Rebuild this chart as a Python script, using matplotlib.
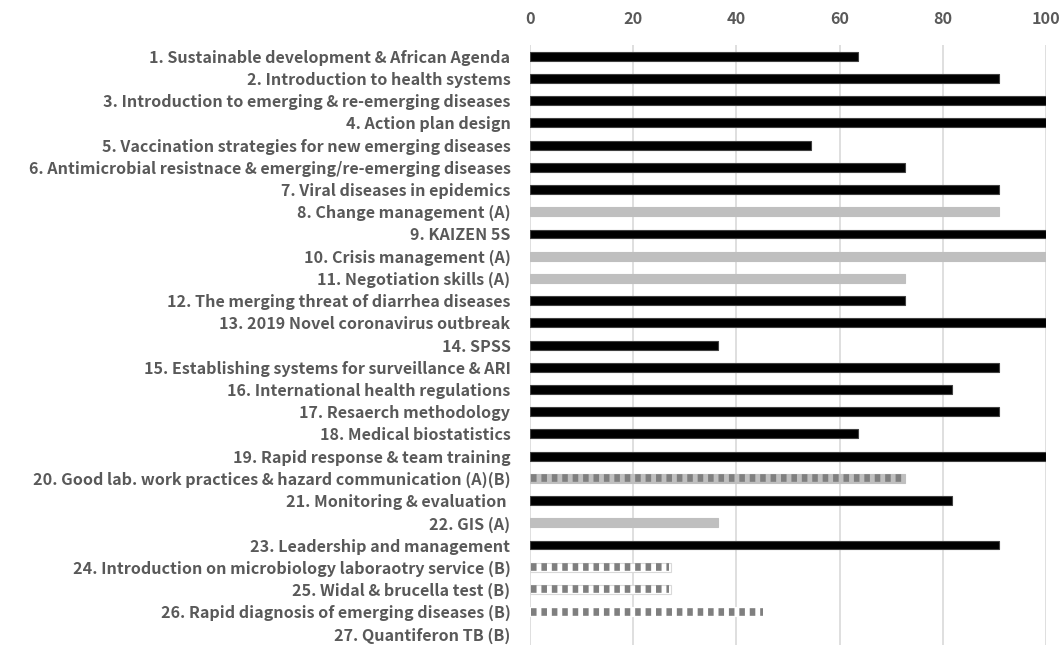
import matplotlib
matplotlib.use("Agg")
import matplotlib.pyplot as plt

plt.rcParams['font.family'] = ['Noto Sans CJK JP', 'DejaVu Sans']
plt.rcParams['lines.scale_dashes'] = False

# course names, scores (%) and group: '' normal, 'A', 'B', 'AB'
courses = [
    "1. Sustainable development & African Agenda",
    "2. Introduction to health systems",
    "3. Introduction to emerging & re-emerging diseases",
    "4. Action plan design",
    "5. Vaccination strategies for new emerging diseases",
    "6. Antimicrobial resistnace & emerging/re-emerging diseases",
    "7. Viral diseases in epidemics",
    "8. Change management (A)",
    "9. KAIZEN 5S",
    "10. Crisis management (A)",
    "11. Negotiation skills (A)",
    "12. The merging threat of diarrhea diseases",
    "13. 2019 Novel coronavirus outbreak",
    "14. SPSS",
    "15. Establishing systems for surveillance & ARI",
    "16. International health regulations",
    "17. Resaerch methodology",
    "18. Medical biostatistics",
    "19. Rapid response & team training",
    "20. Good lab. work practices & hazard communication (A)(B)",
    "21. Monitoring & evaluation ",
    "22. GIS (A)",
    "23. Leadership and management",
    "24. Introduction on microbiology laboraotry service (B)",
    "25. Widal & brucella test (B)",
    "26. Rapid diagnosis of emerging diseases (B)",
    "27. Quantiferon TB (B)",
]
scores = [63.6, 90.9, 100, 100, 54.5, 72.7, 90.9, 90.9, 100, 100, 72.7, 72.7, 100,
          36.4, 90.9, 81.8, 90.9, 63.6, 100, 72.7, 81.8, 36.4, 90.9, 27.3, 27.3, 45.5, 0]
groups = ['', '', '', '', '', '', '', 'A', '', 'A', 'A', '', '', '', '', '', '', '',
          '', 'AB', '', 'A', '', 'B', 'B', 'Bn', 'B']

fig = plt.figure(figsize=(10.62, 6.45), dpi=100)
ax = fig.add_axes([0.499, 0.0, 0.486, 0.930])

y = list(range(len(courses)))
face = {'': 'black', 'A': '#bfbfbf', 'AB': '#bfbfbf', 'B': 'white', 'Bn': 'white'}
edge = {'': '#404040', 'A': '#bfbfbf', 'AB': '#bfbfbf', 'B': '#d9d9d9', 'Bn': 'white'}
for yi, v, g in zip(y, scores, groups):
    if v <= 0:
        continue
    ax.barh(yi, v, height=0.4, color=face[g], edgecolor=edge[g], linewidth=0.8, zorder=3)
    if 'B' in g:
        ax.hlines(yi, 0.3, v - 0.3, colors='#7f7f7f', linewidth=5.5,
                  linestyles=(0, (4.0, 3.5)), zorder=4)

ax.set_xlim(0, 100)
ax.set_ylim(len(courses) - 0.5, -0.5)
ax.set_yticks(y)
ax.set_yticklabels(courses)
ax.set_xticks(range(0, 101, 20))
ax.xaxis.tick_top()
ax.tick_params(length=0, colors='#595959', labelsize=11.6)
ax.tick_params(axis='x', pad=13)
ax.tick_params(axis='y', pad=14)
for lab in ax.get_xticklabels() + ax.get_yticklabels():
    lab.set_fontweight('bold')
ax.grid(axis='x', color='#d9d9d9', linewidth=1.2, zorder=0)
for s in ax.spines.values():
    s.set_visible(False)

fig.savefig("out.png", dpi=100)
